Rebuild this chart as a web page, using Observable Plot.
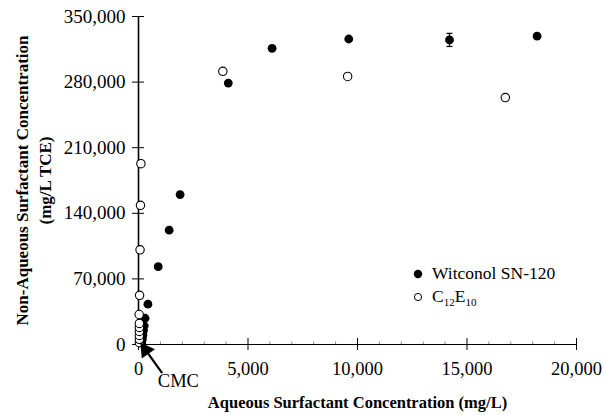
<!DOCTYPE html>
<html>
<head>
<meta charset="utf-8">
<script src="https://cdn.jsdelivr.net/npm/d3@7"></script>
<script src="https://cdn.jsdelivr.net/npm/@observablehq/plot@0.6"></script>
<style>
  html, body { margin: 0; padding: 0; background: #fff; }
  #wrap { position: relative; width: 604px; height: 415px; font-family: "Liberation Serif", "DejaVu Serif", serif; }
  #wrap svg { display: block; }
  .legend { position: absolute; left: 412px; top: 262px; font-size: 17.5px; color: #000; line-height: 23px; }
  .legend div { display: flex; align-items: center; white-space: nowrap; }
  .legend svg { margin-right: 8px; }
  .legend sub { font-size: 11px; vertical-align: -4px; line-height: 0; }
</style>
</head>
<body>
<div id="wrap"></div>
<script>
// ---- data ----
const witconolX = [150, 180, 200, 230, 260, 300, 430, 900, 1400, 1900, 4100, 6100, 9600, 14200, 18200];
const witconolY = [2000, 6000, 10000, 15000, 20000, 28000, 43000, 83000, 122000, 160000, 279000, 316000, 326000, 325000, 329000];
const c12e10X = [40, 40, 40, 40, 40, 40, 30, 50, 70, 90, 110, 3850, 9550, 16750];
const c12e10Y = [2000, 5500, 9700, 14000, 18200, 22500, 32000, 52500, 101000, 148500, 193000, 291500, 286000, 263500];
const errX = [14200];
const errLow = [318000];
const errHigh = [332000];
const xTicks = [0, 5000, 10000, 15000, 20000];
const xMinorTicks = [1000, 2000, 3000, 4000, 6000, 7000, 8000, 9000, 11000, 12000, 13000, 14000, 16000, 17000, 18000, 19000];
const yTicks = [0, 70000, 140000, 210000, 280000, 350000];
const seriesNames = ["Witconol SN-120", "C12E10"];
const cmcLabel = ["CMC"];
const cmcArrowTail = [1080, -30500];
const cmcArrowTip = [330, -6000];
const cmcTextPos = [1820, -39000];

// ---- build tables ----
const wit = witconolX.map((x, i) => ({x, y: witconolY[i]}));
const c12 = c12e10X.map((x, i) => ({x, y: c12e10Y[i]}));
const err = errX.map((x, i) => ({x, lo: errLow[i], hi: errHigh[i]}));
const cmcArrow = [{x1: cmcArrowTail[0], y1: cmcArrowTail[1], x2: cmcArrowTip[0], y2: cmcArrowTip[1]}];
const cmcText = [{x: cmcTextPos[0], y: cmcTextPos[1], t: cmcLabel[0]}];

const fmt = d3.format(",");
const capSymbol = {draw(ctx, size) { ctx.moveTo(-3, 0); ctx.lineTo(3, 0); }};

const chart = Plot.plot({
  width: 604,
  height: 415,
  marginLeft: 138,
  marginRight: 28,
  marginTop: 16,
  marginBottom: 71,
  style: {fontFamily: "'Liberation Serif', serif", fontSize: "18px", color: "#000", background: "#fff", overflow: "visible"},
  x: {domain: [0, 20000]},
  y: {domain: [0, 350000]},
  marks: [
    Plot.axisY({ticks: yTicks, tickSize: 6, tickPadding: 7, tickFormat: fmt, label: null, fontSize: 19, stroke: "#000"}),
    Plot.axisY({ticks: yTicks, tickSize: -6, tickFormat: () => "", label: null, stroke: "#000"}),
    Plot.axisX({ticks: xTicks, tickSize: 6, tickPadding: 11, tickFormat: d => d === 0 ? "0" : fmt(d), label: null, fontSize: 18.5, stroke: "#000"}),
    Plot.axisX({ticks: xTicks, tickSize: -6, tickFormat: () => "", label: null, stroke: "#000"}),
    Plot.axisX({ticks: xMinorTicks, tickSize: -2.5, tickFormat: () => "", label: null, stroke: "#888"}),
    Plot.ruleX([0], {stroke: "#000", strokeWidth: 1.6}),
    Plot.ruleY([0], {stroke: "#000", strokeWidth: 1.2}),
    Plot.ruleX(err, {x: "x", y1: "lo", y2: "hi", stroke: "#000", strokeWidth: 1.2}),
    Plot.dot(err, {x: "x", y: "lo", symbol: capSymbol, stroke: "#000", strokeWidth: 1.2}),
    Plot.dot(err, {x: "x", y: "hi", symbol: capSymbol, stroke: "#000", strokeWidth: 1.2}),
    Plot.dot(wit, {x: "x", y: "y", r: 4.4, fill: "#000", stroke: "none"}),
    Plot.dot(c12, {x: "x", y: "y", r: 4.2, fill: "#fff", stroke: "#000", strokeWidth: 1.1}),
    Plot.link(cmcArrow, {x1: "x1", y1: "y1", x2: "x2", y2: "y2", stroke: "#000", strokeWidth: 2.2}),
    Plot.dot(cmcArrow, {x: "x2", y: "y2", symbol: "triangle", r: 6, fill: "#000", rotate: -35}),
    Plot.text(cmcText, {x: "x", y: "y", text: "t", fontSize: 18.5, fill: "#000"}),
    Plot.text(["Non-Aqueous Surfactant Concentration\n(mg/L TCE)"], {frameAnchor: "left", textAnchor: "middle", dx: -106, rotate: -90, fontSize: 17, fontWeight: "bold", lineHeight: 1.35, fill: "#000"}),
    Plot.text(["Aqueous Surfactant Concentration (mg/L)"], {frameAnchor: "bottom", dy: 63, fontSize: 16.5, fontWeight: "bold", fill: "#000"})
  ]
});

const wrap = document.getElementById("wrap");
wrap.appendChild(chart);

const legend = document.createElement("div");
legend.className = "legend";
legend.innerHTML =
  `<div><svg width="12" height="12"><circle cx="6" cy="6" r="4.2" fill="#000"/></svg><span>${seriesNames[0]}</span></div>` +
  `<div><svg width="12" height="12"><circle cx="6" cy="6" r="3.6" fill="#fff" stroke="#000" stroke-width="1"/></svg><span>C<sub>12</sub>E<sub>10</sub></span></div>`;
wrap.appendChild(legend);
</script>
</body>
</html>
